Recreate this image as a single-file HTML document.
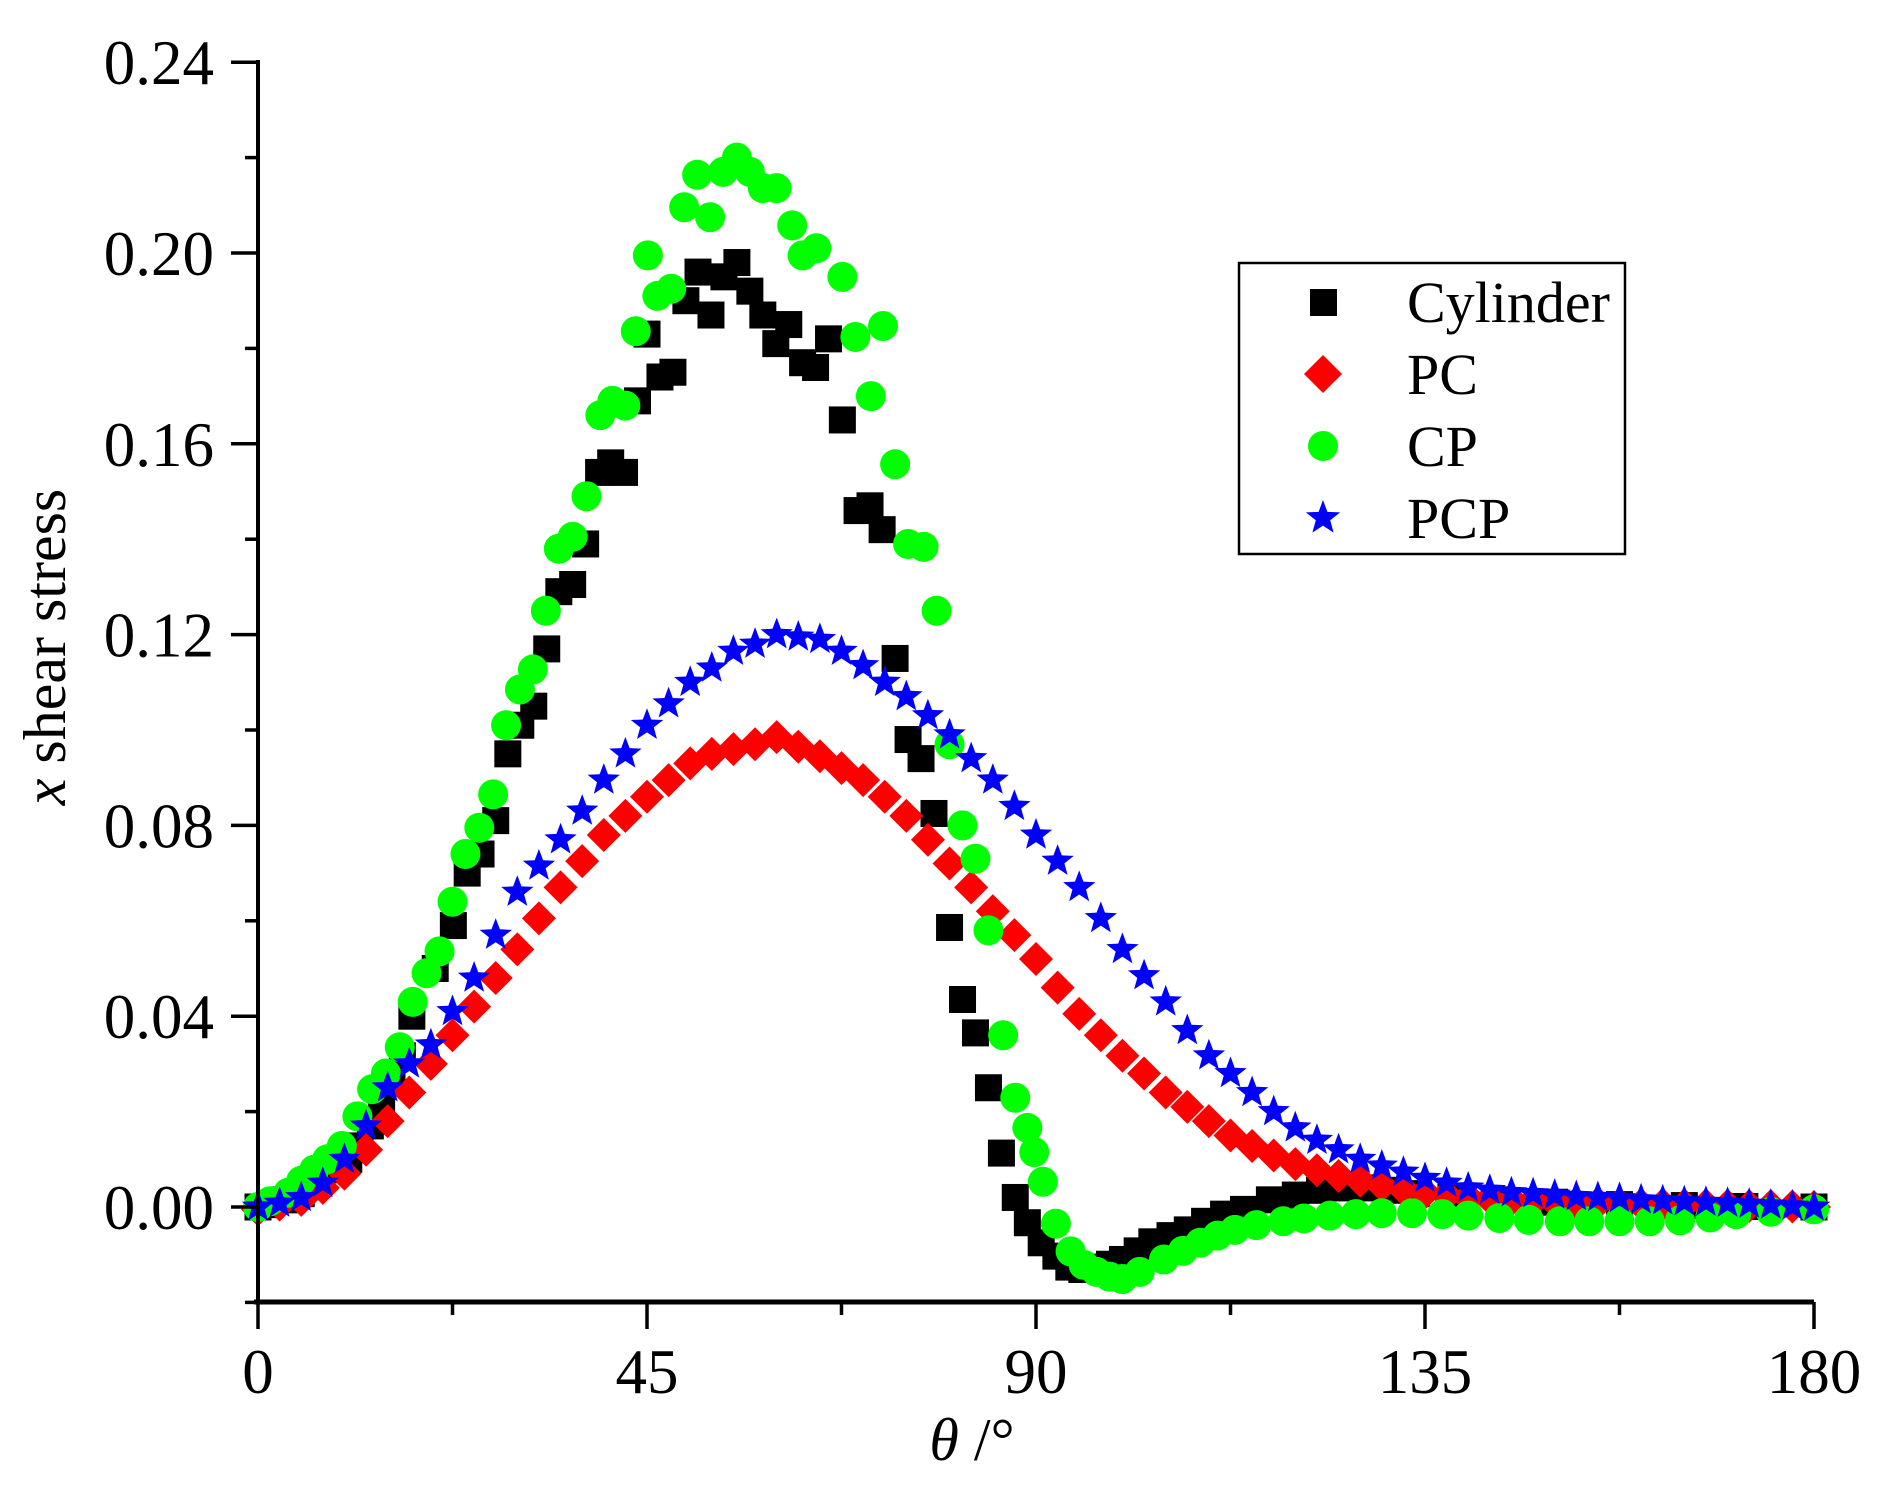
<!DOCTYPE html>
<html><head><meta charset="utf-8"><style>
html,body{margin:0;padding:0;background:#fff;}
svg text{font-family:"Liberation Serif",serif;fill:#000;}
</style></head><body>
<svg id="chart" width="1882" height="1497" viewBox="0 0 1882 1497" xmlns="http://www.w3.org/2000/svg">
<g id="marks"></g>
<g id="axes"></g>
<g>
<rect x="1239" y="263" width="386" height="291" fill="#fff" stroke="#000" stroke-width="2.5"/>
<rect x="1310" y="289" width="27" height="27" fill="#000"/>
<text x="1407" y="322" font-size="58">Cylinder</text>
<polygon points="1323,355 1342,374 1323,393 1304,374" fill="#f00"/>
<text x="1407" y="394" font-size="58">PC</text>
<circle cx="1323" cy="446" r="15" fill="#0f0"/>
<text x="1407" y="466" font-size="58">CP</text>
<polygon id="lstar" fill="#00f"/>
<text x="1407" y="538" font-size="58">PCP</text>
</g>
<text x="65" y="647" font-size="60" transform="rotate(-90 65 647)" text-anchor="middle"><tspan font-style="italic">x</tspan> shear stress</text>
<text x="972" y="1460" font-size="60" text-anchor="middle"><tspan font-style="italic">θ</tspan> /°</text>
</svg>
<script>
const xTicks=[0,45,90,135,180];
const yTicks=[0,0.04,0.08,0.12,0.16,0.20,0.24];
const yTickLabels=["0.00","0.04","0.08","0.12","0.16","0.20","0.24"];
const pcTheta=[0,2.5,5,7.5,10,12.5,15,17.5,20,22.5,25,27.5,30,32.5,35,37.5,40,42.5,45,47.5,50,52.5,55,57.5,60,62.5,65,67.5,70,72.5,75,77.5,80,82.5,85,87.5,90,92.5,95,97.5,100,102.5,105,107.5,110,112.5,115,117.5,120,122.5,125,127.5,130,132.5,135,137.5,140,142.5,145,147.5,150,152.5,155,157.5,160,162.5,165,167.5,170,172.5,175,177.5,180];
const pcValues=[-0.0005,0.0005,0.0015,0.004,0.007,0.012,0.018,0.024,0.030,0.036,0.042,0.048,0.054,0.0605,0.067,0.0725,0.078,0.082,0.086,0.0895,0.093,0.095,0.096,0.097,0.0985,0.0965,0.0945,0.092,0.0895,0.086,0.082,0.077,0.072,0.067,0.062,0.057,0.052,0.046,0.0405,0.036,0.0317,0.028,0.024,0.021,0.018,0.015,0.0128,0.0108,0.009,0.0077,0.0065,0.0055,0.0045,0.0037,0.003,0.0025,0.002,0.0017,0.0015,0.0012,0.001,0.0009,0.0008,0.0006,0.0005,0.0005,0.0004,0.0004,0.0003,0.0002,0.0002,0.0001,0];
const pcpTheta=pcTheta.slice();
const pcpValues=[0,0.0008,0.002,0.005,0.010,0.017,0.025,0.030,0.034,0.041,0.048,0.057,0.066,0.0715,0.077,0.083,0.0895,0.095,0.101,0.1055,0.110,0.113,0.1165,0.118,0.120,0.1195,0.119,0.1165,0.1135,0.110,0.107,0.103,0.099,0.094,0.0895,0.084,0.078,0.0725,0.067,0.0605,0.054,0.0485,0.043,0.037,0.0317,0.028,0.024,0.020,0.0166,0.014,0.012,0.010,0.0086,0.0073,0.006,0.005,0.004,0.0035,0.003,0.0028,0.0025,0.0022,0.002,0.0018,0.0015,0.0013,0.0011,0.001,0.0008,0.0006,0.0004,0.0002,0];
const cylTheta=[0,1.4,3.2,5,7,9,10.5,11.8,13,14.3,15.5,16.7,17.8,20.5,22.6,24.2,25.8,27.5,28.9,30.4,31.9,33.4,34.8,36.4,37.9,39.4,40.8,42.4,43.9,45,46.5,48,49.5,50.9,52.4,53.9,55.4,56.9,58.4,59.9,61.4,63,64.5,66,67.6,69.3,70.8,72.2,73.7,75.2,76.7,78.2,80,81.5,83,84.5,86,87.6,89,90.6,92.3,93.8,95.3,96.8,98.5,100,101.7,103.4,105.5,107.5,109.5,111.7,114,117,120,122.8,125.5,128,131,134,138,143.6,150,157.5,165,172,180];
const cylValues=[0,0.0005,0.0015,0.0028,0.005,0.0078,0.010,0.0128,0.017,0.0216,0.026,0.0317,0.040,0.050,0.059,0.070,0.074,0.081,0.095,0.101,0.105,0.117,0.129,0.1305,0.139,0.154,0.156,0.154,0.169,0.183,0.174,0.175,0.190,0.196,0.187,0.195,0.198,0.192,0.187,0.181,0.185,0.177,0.176,0.182,0.165,0.146,0.147,0.142,0.115,0.098,0.094,0.0825,0.0586,0.0435,0.0365,0.025,0.0113,0.002,-0.0033,-0.0075,-0.0103,-0.0126,-0.0131,-0.0126,-0.012,-0.011,-0.0092,-0.0073,-0.006,-0.0048,-0.003,-0.0015,-0.0005,0.0015,0.0025,0.0035,0.004,0.004,0.0035,0.0028,0.002,0.0015,0.001,0.0005,0.0003,0.0001,0];
const cpTheta=[0,1.4,3.5,5,6.5,8,9.7,11.5,13.2,14.8,16.4,17.9,19.5,21,22.5,24,25.6,27.2,28.7,30.3,31.8,33.3,34.8,36.4,38,39.6,41,42.5,43.7,45.1,46.2,47.8,49.3,50.8,52.3,53.8,55.4,56.9,58.4,60,61.8,63,64.6,67.6,69.1,70.9,72.3,73.7,75.2,77,78.5,80,81.5,83,84.5,86.2,87.6,89,89.8,90.8,92.3,94,95.5,97,98.5,100,102,104.8,107,109,111,113,115.5,118.6,121,124,127,130,133.5,137,140,143.6,147,150.6,154,157.5,161,164.5,168,171,175,180];
const cpValues=[0,0.0012,0.003,0.0055,0.0078,0.010,0.0128,0.019,0.0247,0.028,0.0335,0.043,0.049,0.0536,0.064,0.074,0.0795,0.0865,0.101,0.1085,0.1127,0.125,0.138,0.1405,0.149,0.166,0.169,0.168,0.1836,0.1995,0.191,0.1925,0.2096,0.2164,0.2075,0.217,0.220,0.217,0.2136,0.2136,0.2058,0.1995,0.201,0.195,0.1824,0.170,0.1847,0.1557,0.139,0.1384,0.125,0.097,0.080,0.073,0.058,0.036,0.0229,0.0166,0.0115,0.0053,-0.0035,-0.0093,-0.0121,-0.0136,-0.0146,-0.0151,-0.0136,-0.011,-0.0092,-0.0075,-0.006,-0.0048,-0.0038,-0.003,-0.0024,-0.0018,-0.0015,-0.0013,-0.0013,-0.0015,-0.0018,-0.0023,-0.0027,-0.003,-0.003,-0.003,-0.003,-0.0028,-0.0022,-0.0015,-0.001,-0.0005];

const NS='http://www.w3.org/2000/svg';
const X0=258,X1=1814,Y0=1207,YK=4770;
function xs(t){return X0+(t/180)*(X1-X0);}
function ys(v){return Y0-v*YK;}
const marks=document.getElementById('marks');
const axes=document.getElementById('axes');
function mk(tag,attrs,parent){const e=document.createElementNS(NS,tag);for(const k in attrs)e.setAttribute(k,attrs[k]);parent.appendChild(e);return e;}
function starPts(cx,cy,R){const r=R*0.42;let p=[];for(let i=0;i<10;i++){const a=-Math.PI/2+i*Math.PI/5;const rr=i%2?r:R;p.push((cx+rr*Math.cos(a)).toFixed(1)+','+(cy+rr*Math.sin(a)).toFixed(1));}return p.join(' ');}
document.getElementById('lstar').setAttribute('points',starPts(1323,518,18));

const gC=mk('g',{},marks);


cylTheta.forEach((t,i)=>{const e=mk('rect',{x:xs(t)-13.5,y:ys(cylValues[i])-13.5,width:27,height:27,fill:'#000'},gC);

});
const gP=mk('g',{},marks);


pcTheta.forEach((t,i)=>{const x=xs(t),y=ys(pcValues[i]);const e=mk('polygon',{points:`${x},${y-17} ${x+17},${y} ${x},${y+17} ${x-17},${y}`,fill:'#f00'},gP);

});
const gG=mk('g',{},marks);


cpTheta.forEach((t,i)=>{const e=mk('circle',{cx:xs(t),cy:ys(cpValues[i]),r:15,fill:'#0f0'},gG);

});
const gB=mk('g',{},marks);


pcpTheta.forEach((t,i)=>{const e=mk('polygon',{points:starPts(xs(t),ys(pcpValues[i]),17),fill:'#00f'},gB);

});

// axes
const yl=mk('line',{x1:X0,y1:60,x2:X0,y2:1304,stroke:'#000','stroke-width':4},axes);


const xl=mk('line',{x1:X0-4,y1:1302,x2:X1,y2:1302,stroke:'#000','stroke-width':5},axes);


for(let t=0;t<=180;t+=22.5){const major=(t%45===0);const e=mk('line',{x1:xs(t),y1:1302,x2:xs(t),y2:1302+(major?27:13),stroke:'#000','stroke-width':3.5},axes);

}
xTicks.forEach(t=>{const e=mk('text',{x:xs(t),y:1393,'font-size':63,'text-anchor':'middle'},axes);e.textContent=String(t);

});
for(let k=-1;k<=12;k++){const v=k*0.02;const major=(k%2===0);const e=mk('line',{x1:X0,y1:ys(v),x2:X0-(major?27:13),y2:ys(v),stroke:'#000','stroke-width':3.5},axes);

}
yTicks.forEach((v,i)=>{const e=mk('text',{x:214,y:ys(v)+22,'font-size':63,'text-anchor':'end'},axes);e.textContent=yTickLabels[i];

});
</script>
</body></html>
